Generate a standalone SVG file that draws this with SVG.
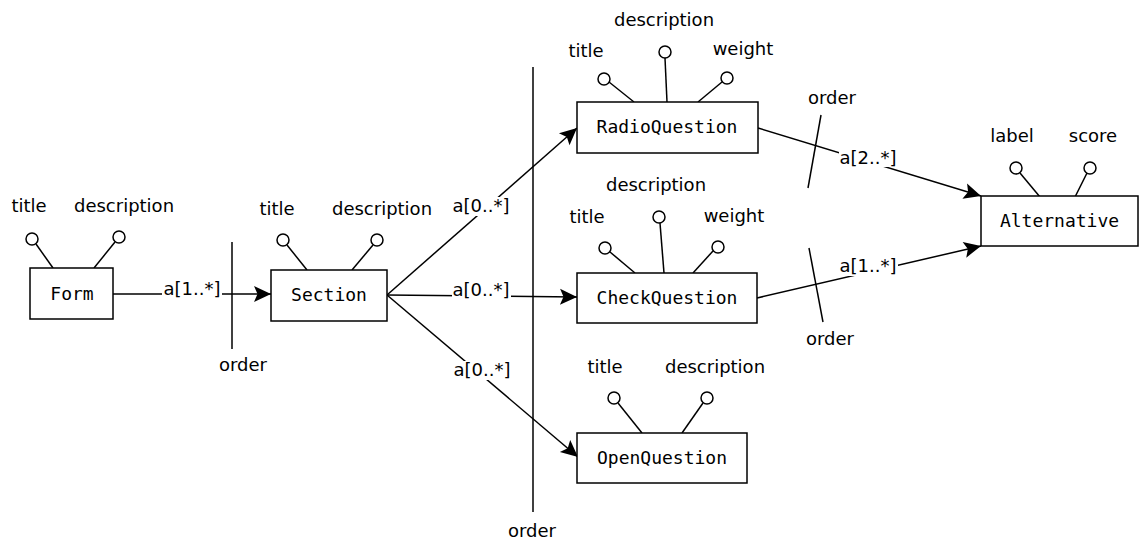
<svg xmlns="http://www.w3.org/2000/svg" width="1140" height="541" viewBox="0 0 1140 541">
  <style>
    .box { fill: #fff; stroke: #000; stroke-width: 1.5; }
    .name { font-family: "DejaVu Sans Mono", "Liberation Mono", monospace; font-size: 18px; fill: #000; text-anchor: middle; }
    .lbl { font-family: "DejaVu Sans", "Liberation Sans", sans-serif; font-size: 18px; fill: #000; text-anchor: middle; }
    .ln { stroke: #000; stroke-width: 1.5; fill: none; }
    .attr { fill: #fff; stroke: #000; stroke-width: 1.5; }
    .bg { fill: #fff; stroke: none; }
    .arr { stroke: #000; stroke-width: 1.5; fill: none; marker-end: url(#head); }
  </style>
  <defs>
    <marker id="head" markerUnits="userSpaceOnUse" markerWidth="20" markerHeight="20" refX="18" refY="9" orient="auto">
      <path d="M18,9 L1,1 L4.5,9 L1,17 Z" fill="#000"/>
    </marker>
  </defs>
  <rect width="1140" height="541" fill="#fff"/>

  <!-- connectors -->
  <g id="connectors">
    <line class="arr" x1="113" y1="294" x2="271" y2="294"/>
    <line class="arr" x1="387" y1="295" x2="577" y2="128"/>
    <line class="arr" x1="387" y1="295" x2="577" y2="297"/>
    <line class="arr" x1="387" y1="295" x2="578" y2="457"/>
    <line class="arr" x1="758" y1="128" x2="981" y2="196"/>
    <line class="arr" x1="757" y1="298" x2="981" y2="246"/>

    <!-- ordering bars -->
    <line class="ln" x1="232" y1="242" x2="232" y2="349"/>
    <line class="ln" x1="533" y1="67" x2="533" y2="512"/>
    <line class="ln" x1="821" y1="115" x2="808" y2="188"/>
    <line class="ln" x1="809" y1="248" x2="823" y2="322"/>

    <!-- multiplicity labels -->
    <rect class="bg" x="162" y="280" width="60" height="19"/>
    <text class="lbl" x="192" y="295">a[1..*]</text>
    <rect class="bg" x="452" y="197" width="59" height="19"/>
    <text class="lbl" x="481" y="212">a[0..*]</text>
    <rect class="bg" x="452" y="281" width="59" height="19"/>
    <text class="lbl" x="481" y="296">a[0..*]</text>
    <rect class="bg" x="452" y="361" width="60" height="19"/>
    <text class="lbl" x="482" y="376">a[0..*]</text>
    <rect class="bg" x="839" y="149" width="59" height="18"/>
    <text class="lbl" x="868" y="164">a[2..*]</text>
    <rect class="bg" x="839" y="257" width="59" height="19"/>
    <text class="lbl" x="868" y="272">a[1..*]</text>

    <text class="lbl" x="243" y="371">order</text>
    <text class="lbl" x="532" y="537">order</text>
    <text class="lbl" x="832" y="104">order</text>
    <text class="lbl" x="830" y="345">order</text>
  </g>

  <!-- Form -->
  <g id="form">
    <line class="ln" x1="36" y1="244" x2="53" y2="268"/>
    <line class="ln" x1="115" y1="242" x2="94" y2="268"/>
    <circle class="attr" cx="32" cy="239" r="6"/>
    <circle class="attr" cx="119" cy="237" r="6"/>
    <text class="lbl" x="29" y="212">title</text>
    <text class="lbl" x="124" y="212">description</text>
    <rect class="box" x="30" y="268" width="83" height="51"/>
    <text class="name" x="72" y="300">Form</text>
  </g>

  <!-- Section -->
  <g id="section">
    <line class="ln" x1="287" y1="245" x2="307" y2="270"/>
    <line class="ln" x1="373" y1="245" x2="352" y2="270"/>
    <circle class="attr" cx="283" cy="240" r="6"/>
    <circle class="attr" cx="377" cy="240" r="6"/>
    <text class="lbl" x="277" y="215">title</text>
    <text class="lbl" x="382" y="215">description</text>
    <rect class="box" x="271" y="270" width="116" height="51"/>
    <text class="name" x="329" y="301">Section</text>
  </g>

  <!-- RadioQuestion -->
  <g id="radio-question">
    <line class="ln" x1="609" y1="82" x2="634" y2="102"/>
    <line class="ln" x1="665" y1="58" x2="667" y2="102"/>
    <line class="ln" x1="722" y1="82" x2="698" y2="102"/>
    <circle class="attr" cx="604" cy="79" r="6"/>
    <circle class="attr" cx="665" cy="52" r="6"/>
    <circle class="attr" cx="727" cy="78" r="6"/>
    <text class="lbl" x="586" y="57">title</text>
    <text class="lbl" x="664" y="26">description</text>
    <text class="lbl" x="743" y="55">weight</text>
    <rect class="box" x="577" y="102" width="181" height="51"/>
    <text class="name" x="667" y="133">RadioQuestion</text>
  </g>

  <!-- CheckQuestion -->
  <g id="check-question">
    <line class="ln" x1="610" y1="252" x2="635" y2="273"/>
    <line class="ln" x1="660" y1="223" x2="664" y2="273"/>
    <line class="ln" x1="713" y1="251" x2="693" y2="273"/>
    <circle class="attr" cx="605" cy="248" r="6"/>
    <circle class="attr" cx="659" cy="217" r="6"/>
    <circle class="attr" cx="718" cy="247" r="6"/>
    <text class="lbl" x="587" y="223">title</text>
    <text class="lbl" x="656" y="191">description</text>
    <text class="lbl" x="734" y="222">weight</text>
    <rect class="box" x="577" y="273" width="180" height="50"/>
    <text class="name" x="667" y="304">CheckQuestion</text>
  </g>

  <!-- OpenQuestion -->
  <g id="open-question">
    <line class="ln" x1="618" y1="403" x2="642" y2="433"/>
    <line class="ln" x1="703" y1="403" x2="682" y2="433"/>
    <circle class="attr" cx="614" cy="398" r="6"/>
    <circle class="attr" cx="707" cy="398" r="6"/>
    <text class="lbl" x="605" y="373">title</text>
    <text class="lbl" x="715" y="373">description</text>
    <rect class="box" x="577" y="433" width="170" height="50"/>
    <text class="name" x="662" y="464">OpenQuestion</text>
  </g>

  <!-- Alternative -->
  <g id="alternative">
    <line class="ln" x1="1020" y1="173" x2="1040" y2="197"/>
    <line class="ln" x1="1087" y1="173" x2="1075" y2="197"/>
    <circle class="attr" cx="1016" cy="168" r="6"/>
    <circle class="attr" cx="1090" cy="168" r="6"/>
    <text class="lbl" x="1012" y="142">label</text>
    <text class="lbl" x="1093" y="142">score</text>
    <rect class="box" x="981" y="196" width="157" height="50"/>
    <text class="name" x="1059.5" y="227">Alternative</text>
  </g>
</svg>
